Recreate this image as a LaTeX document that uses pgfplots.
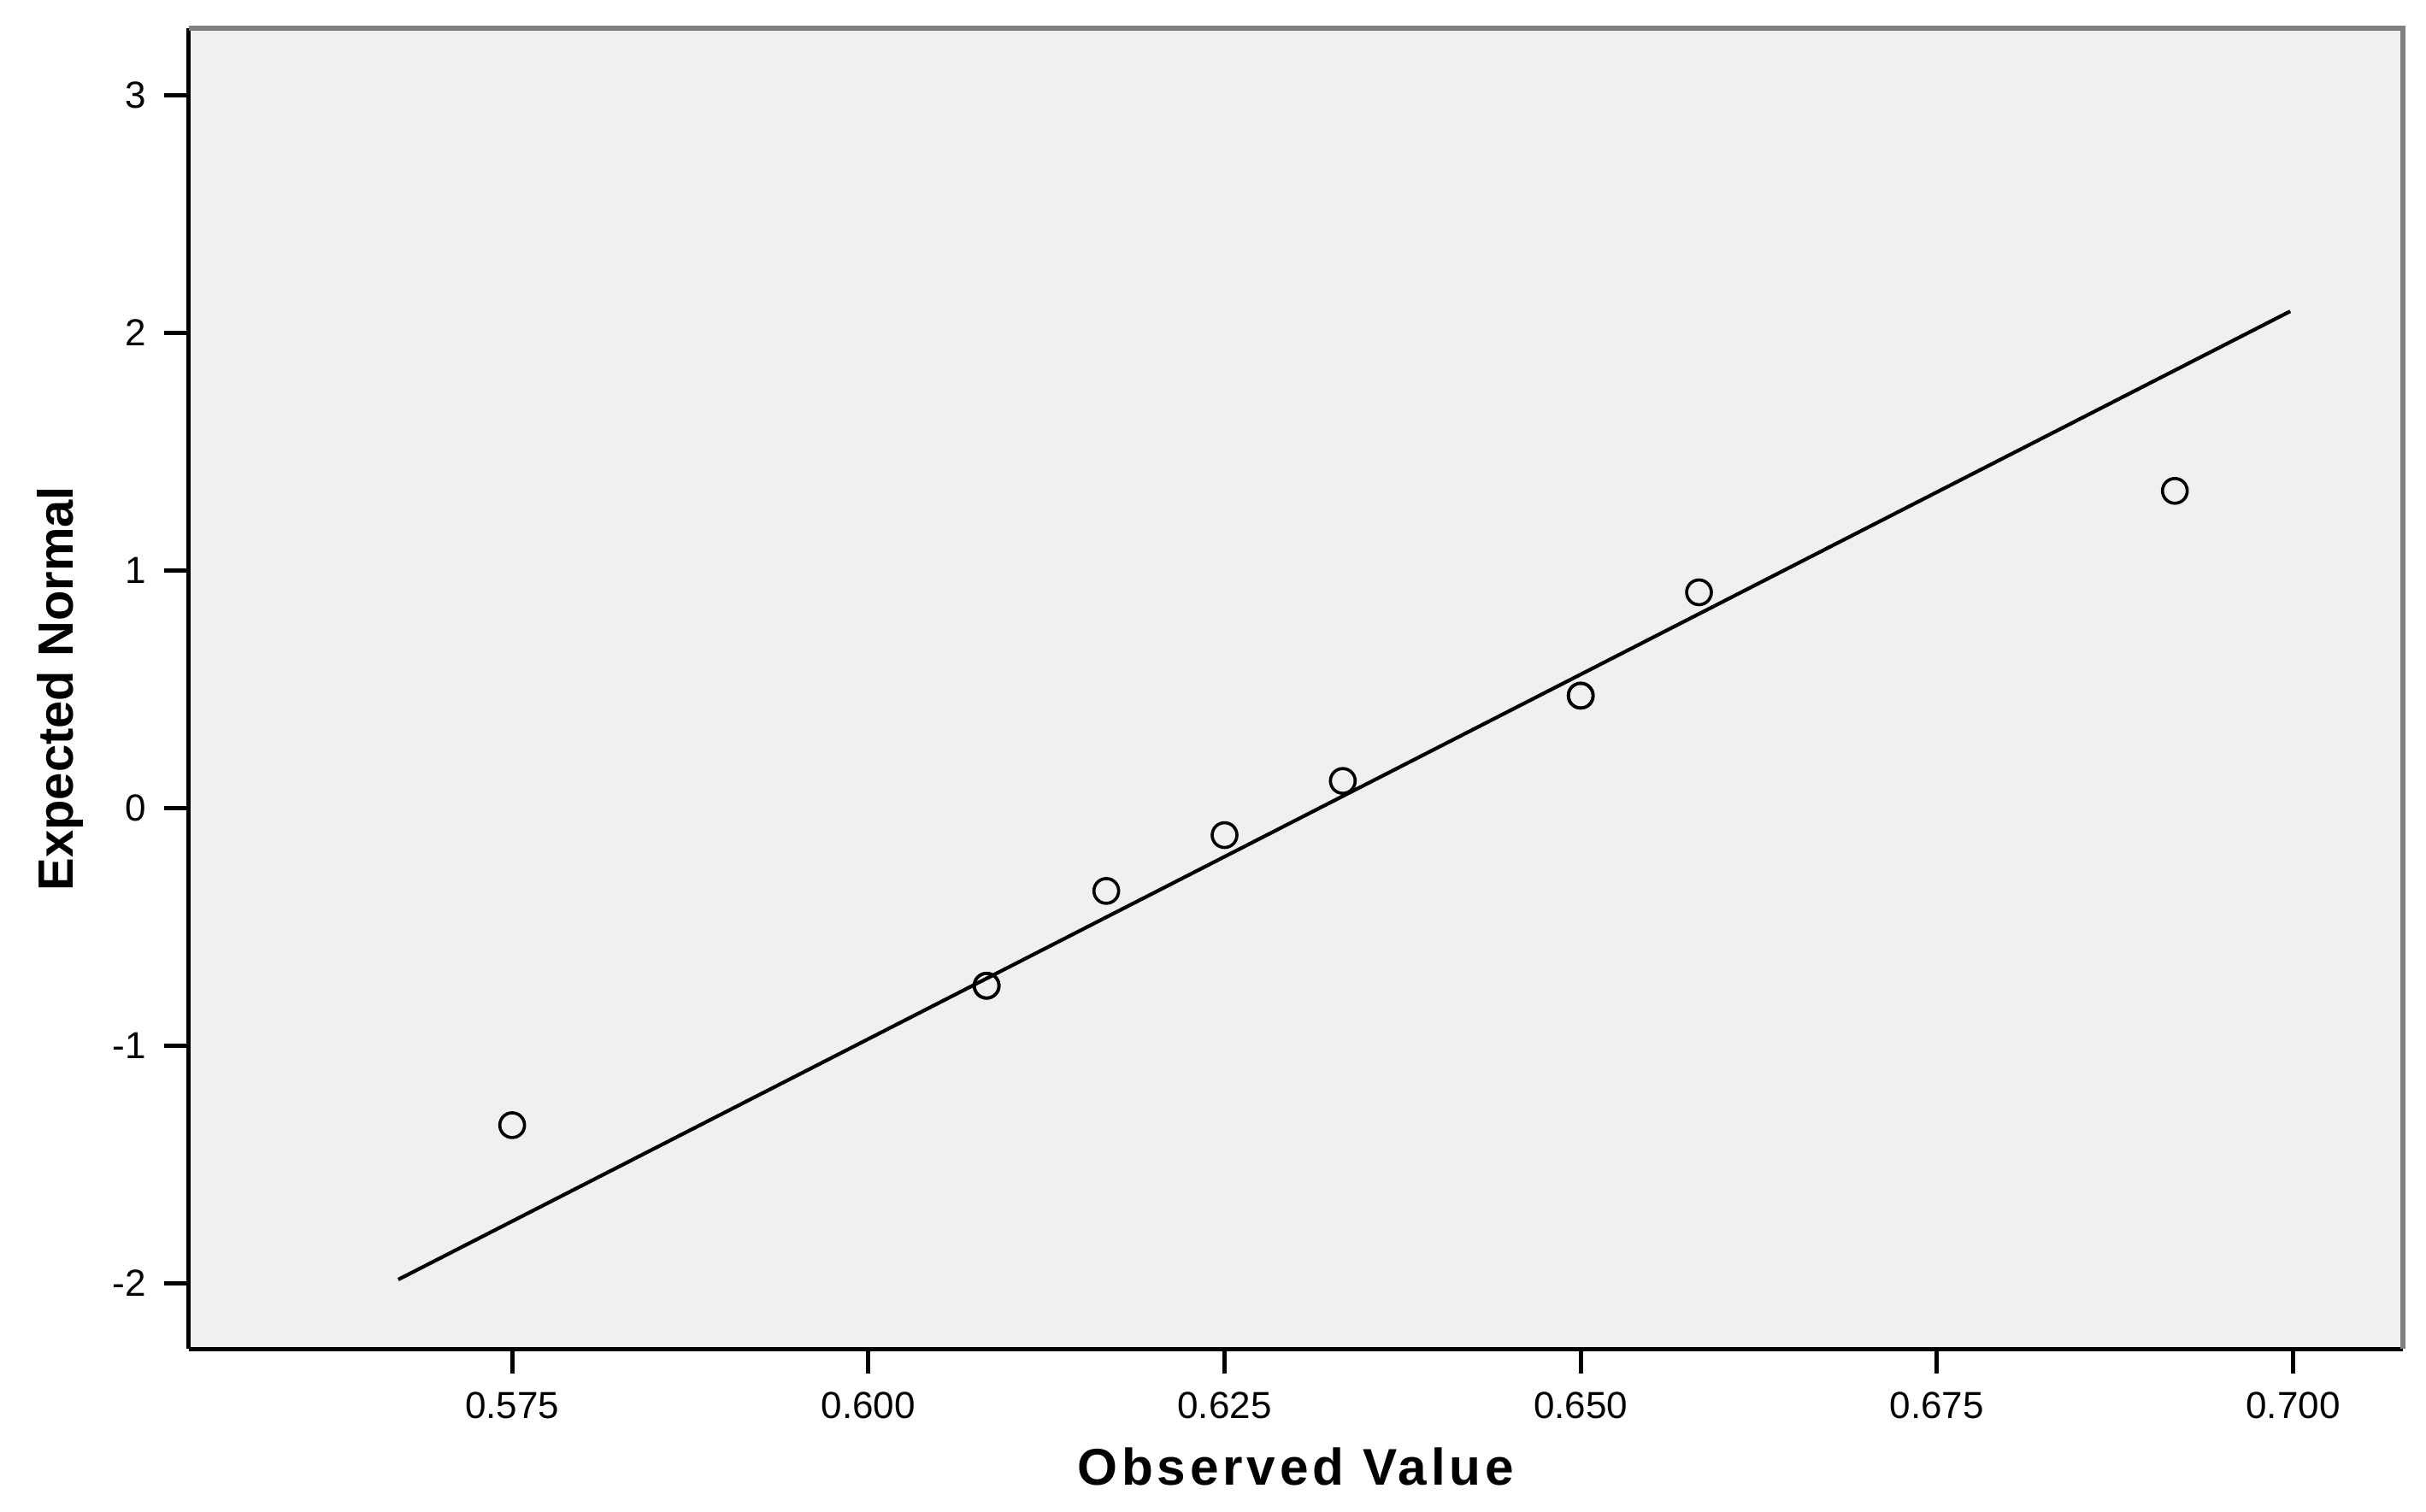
\documentclass[border=0pt]{standalone}
\usepackage{fontspec}
\setmainfont{Liberation Sans}
\usepackage{pgfplots}
\pgfplotsset{compat=1.18}
\definecolor{plotbg}{RGB}{240,240,240}
\definecolor{framegray}{RGB}{128,128,128}

\begin{document}
\begin{tikzpicture}
\useasboundingbox (-36.6pt,-31.5pt) rectangle (433.8pt,261.6pt);
\begin{axis}[
    at={(0,0)}, anchor=south west,
    scale only axis, width=429.3pt, height=256.1pt,
    xmin=0.5523, xmax=0.7077, ymin=-2.277, ymax=3.282,
    clip=false,
    axis x line*=bottom, axis y line*=left,
    axis line style={-, black, line width=0.8pt},
    axis background/.style={fill=plotbg},
    tick align=outside, major tick length=4.8pt,
    tick style={black, line width=0.8pt},
    xtick={0.575,0.600,0.625,0.650,0.675,0.700},
    xticklabels={0.575,0.600,0.625,0.650,0.675,0.700},
    ytick={-2,-1,0,1,2,3},
    yticklabels={-2,-1,0,1,2,3},
    ticklabel style={font=\fontsize{7.3}{8}\selectfont},
    xlabel={Observed Value},
    ylabel={Expected Normal},
    xlabel style={at={(axis description cs:0.5,-0.1031)}, anchor=base,
        font=\bfseries\fontsize{10}{12}\selectfont\addfontfeature{LetterSpace=8}},
    ylabel style={at={(axis description cs:-0.0524,0.5)}, anchor=base,
        font=\bfseries\fontsize{9.6}{11}\selectfont},
]
% observed values with van der Waerden normal scores (ties share a rank)
\addplot[only marks, mark=o, mark size=2.4pt,
    mark options={line width=0.6pt, black}] coordinates {
    (0.5750,-1.335)
    (0.6083,-0.748)
    (0.6083,-0.748)
    (0.6167,-0.349)
    (0.6250,-0.114)
    (0.6333,0.114)
    (0.6500,0.473)
    (0.6500,0.473)
    (0.6583,0.908)
    (0.6917,1.335)
};
% reference line
\addplot[black, line width=0.7pt] coordinates {
    (0.5670,-1.985)
    (0.6998,2.091)
};
\draw[framegray, line width=1pt] (rel axis cs:0,1) -- (rel axis cs:1,1) -- (rel axis cs:1,0);
\end{axis}
\end{tikzpicture}
\end{document}
